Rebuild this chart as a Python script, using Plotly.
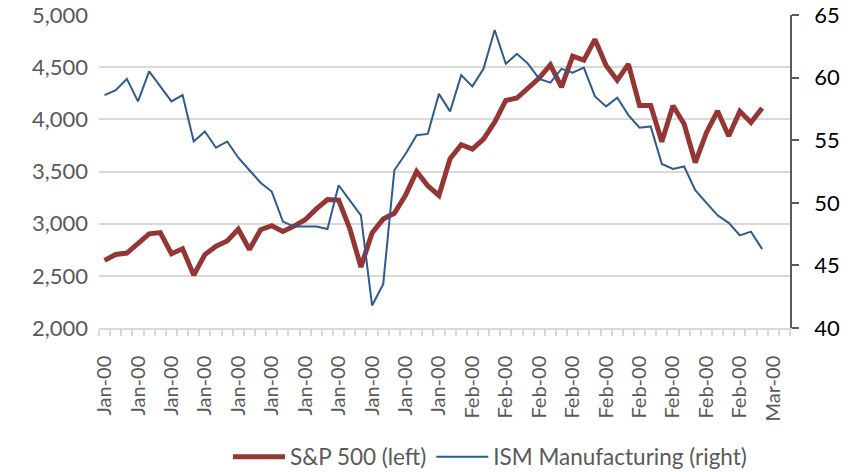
import plotly.graph_objects as go

# monthly points, Apr-2018 .. Mar-2023 (60 values), plus 2 empty slots on the axis
sp500 = [2648, 2705, 2718, 2816, 2902, 2914, 2712, 2760, 2507,
         2704, 2784, 2834, 2946, 2752, 2942, 2980, 2926, 2977, 3038, 3141, 3231,
         3226, 2954, 2585, 2912, 3044, 3100, 3271, 3500, 3363, 3270, 3622, 3756,
         3714, 3811, 3973, 4181, 4204, 4298, 4395, 4523, 4308, 4605, 4567, 4766,
         4516, 4374, 4530, 4132, 4132, 3785, 4130, 3955, 3586, 3872, 4080, 3840,
         4077, 3970, 4109]

ism = [58.6, 59.0, 59.9, 58.1, 60.5, 59.3, 58.1, 58.6, 54.9,
       55.7, 54.4, 54.9, 53.6, 52.6, 51.6, 50.9, 48.5, 48.1, 48.1, 48.1, 47.9,
       51.4, 50.2, 49.0, 41.8, 43.5, 52.6, 53.9, 55.4, 55.5, 58.7, 57.3, 60.2,
       59.3, 60.7, 63.8, 61.1, 61.9, 61.1, 59.9, 59.6, 60.7, 60.4, 60.8, 58.5,
       57.7, 58.4, 57.0, 56.0, 56.1, 53.1, 52.7, 52.9, 51.0, 50.0, 49.0, 48.4,
       47.4, 47.7, 46.3]

n_slots = 62
tick_labels = ["Jan-00"] * 11 + ["Feb-00"] * 9 + ["Mar-00"]
tick_pos = list(range(0, 61, 3))

FONT = "Lato"
GREY = "#595959"
GRID = "#D9D9D9"

fig = go.Figure()

# S&P 500 on the left axis
fig.add_trace(go.Scatter(
    x=list(range(len(sp500))), y=sp500,
    name="S&P 500 (left)", mode="lines",
    line=dict(color="#943634", width=5),
))

# ISM on the right axis
fig.add_trace(go.Scatter(
    x=list(range(len(ism))), y=ism,
    name="ISM Manufacturing (right)", mode="lines",
    line=dict(color="#2E5B8E", width=2),
    yaxis="y2",
))

fig.update_layout(
    width=857, height=472,
    margin=dict(l=99, r=67, t=15, b=144, autoexpand=False),
    paper_bgcolor="white", plot_bgcolor="white",
    font=dict(family=FONT, color=GREY),
    xaxis=dict(
        range=[-0.5, n_slots - 0.5], automargin=False,
        tickmode="array", tickvals=tick_pos, ticktext=tick_labels,
        tickangle=-90, tickfont=dict(size=20, color=GREY),
        ticks="", showgrid=False, zeroline=False,
        showline=True, linecolor=GRID, linewidth=1.5,
        ticklabelstandoff=18,
        minor=dict(tickmode="linear", tick0=-0.5, dtick=1, ticks="outside",
                   ticklen=6, tickcolor=GRID, tickwidth=1.5),
    ),
    yaxis=dict(
        range=[2000, 5000], dtick=500, tickformat=",", automargin=False,
        tickfont=dict(size=22, color=GREY), ticklabeloverflow="allow",
        showgrid=True, gridcolor=GRID, gridwidth=1.5,
        zeroline=False, showline=False, ticks="",
        ticklabelstandoff=10,
    ),
    yaxis2=dict(
        range=[40, 65], dtick=5, overlaying="y", side="right", automargin=False,
        tickfont=dict(size=22, color="black"), ticklabeloverflow="allow",
        showgrid=False, zeroline=False,
        showline=True, linecolor=GREY, linewidth=1.5,
        ticks="outside", ticklen=7, tickcolor=GREY, tickwidth=1.5,
        ticklabelstandoff=11,
    ),
    legend=dict(
        orientation="h", xref="container", x=490 / 857, xanchor="center",
        yref="container", y=1 - 457 / 472, yanchor="middle",
        font=dict(size=22.5, color=GREY), traceorder="normal",
        itemwidth=52,
    ),
)

# drop the browser's default body margin so the figure sits at (0, 0)
fig.write_html("out.html", config={"displayModeBar": False},
               post_script="document.body.style.margin='0';")
